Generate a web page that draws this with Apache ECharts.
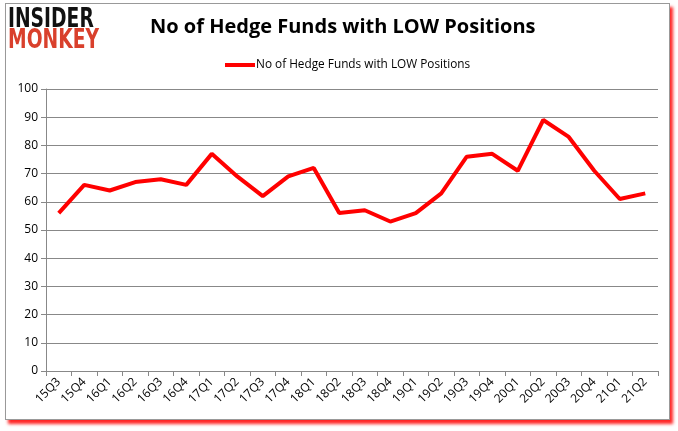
<!DOCTYPE html>
<html><head><meta charset="utf-8">
<script src="https://cdn.jsdelivr.net/npm/echarts@6/dist/echarts.min.js"></script>
<style>
html,body{margin:0;padding:0;background:#fff;}
#frame{position:absolute;left:5px;top:3px;width:663px;height:415px;border:1px solid #999;box-shadow:3px 4px 3px rgba(255,0,0,0.85);background:#fff;}
#chart{position:absolute;left:0;top:0;width:678px;height:431px;}
</style></head>
<body>
<div id="frame"></div>
<div id="chart"></div>
<script>
const categories = ['15Q3','15Q4','16Q1','16Q2','16Q3','16Q4','17Q1','17Q2','17Q3','17Q4','18Q1','18Q2','18Q3','18Q4','19Q1','19Q2','19Q3','19Q4','20Q1','20Q2','20Q3','20Q4','21Q1','21Q2'];
const values = [56,66,64,67,68,66,77,69,62,69,72,56,57,53,56,63,76,77,71,89,83,71,61,63];
const seriesName = 'No of Hedge Funds with LOW Positions';
const titleText = 'No of Hedge Funds with LOW Positions';

const chart = echarts.init(document.getElementById('chart'));
chart.setOption({
  animation:false,
  backgroundColor:'transparent',
  graphic:[
    {type:'text',x:8,y:7,scaleX:0.8,style:{text:'INSIDER',font:'bold 26px "DejaVu Sans Condensed", "DejaVu Sans", sans-serif',fill:'#111'}},
    {type:'text',x:8,y:28,scaleX:0.8,style:{text:'MONKEY',font:'bold 26px "DejaVu Sans Condensed", "DejaVu Sans", sans-serif',fill:'#d9402c'}}
  ],
  title:{text:titleText,left:145,top:12,textStyle:{fontFamily:'"Open Sans", "DejaVu Sans", sans-serif',fontWeight:'bold',fontSize:20,color:'#000'}},
  legend:{top:54,left:220,itemWidth:30,itemHeight:4,itemGap:4,icon:'rect',
    textStyle:{fontFamily:'"Open Sans", "DejaVu Sans", sans-serif',fontSize:11.8,color:'#000',padding:[0,0,0,-4]},
    data:[seriesName]},
  grid:{left:46,right:20,top:89,bottom:60},
  xAxis:{type:'category',data:categories,boundaryGap:true,
    axisLine:{lineStyle:{color:'#888'}},
    axisTick:{show:true,alignWithLabel:false,length:5,lineStyle:{color:'#888'}},
    axisLabel:{rotate:45,interval:0,fontFamily:'"Open Sans", "DejaVu Sans", sans-serif',fontSize:12,color:'#000',margin:9}},
  yAxis:{type:'value',min:0,max:100,interval:10,
    axisLine:{show:true,lineStyle:{color:'#888'}},
    axisTick:{show:true,length:5,lineStyle:{color:'#888'}},
    splitLine:{lineStyle:{color:'#888',width:1}},
    axisLabel:{fontFamily:'"Open Sans", "DejaVu Sans", sans-serif',fontSize:12,color:'#000',margin:8}},
  series:[{name:seriesName,type:'line',data:values,showSymbol:false,symbol:'none',
    lineStyle:{color:'#ff0000',width:4},itemStyle:{color:'#ff0000'}}]
});
</script>
</body></html>
